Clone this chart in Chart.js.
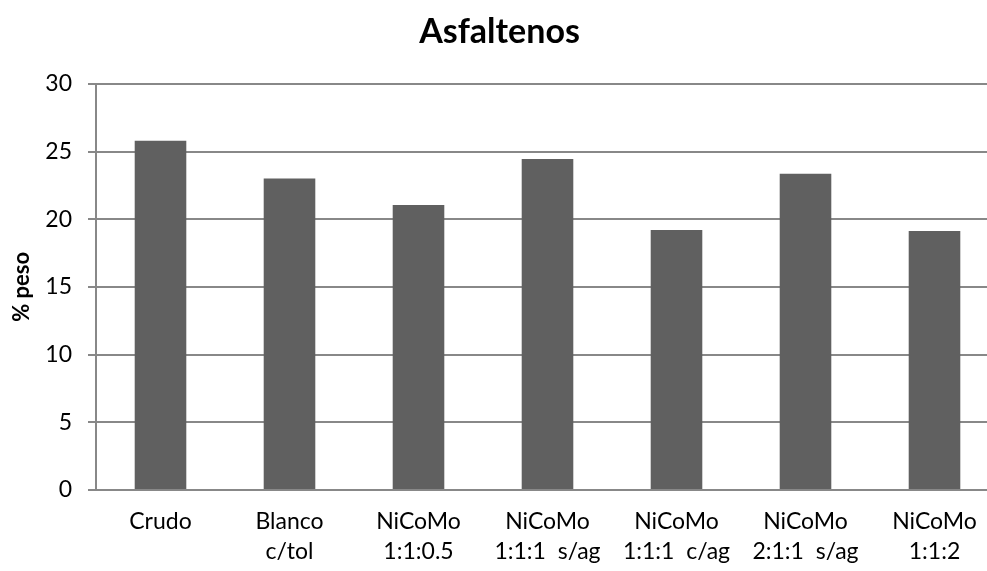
<!DOCTYPE html>
<html>
<head>
<meta charset="utf-8">
<script src="https://cdn.jsdelivr.net/npm/chart.js@4"></script>
<style>
html,body{margin:0;padding:0;background:#fff;overflow:hidden;}
#wrap{width:1000px;height:571px;position:relative;}
</style>
</head>
<body>
<div id="wrap"><canvas id="c" width="1000" height="571"></canvas></div>
<script>
const chartTitle = "Asfaltenos";
const yAxisTitle = "% peso";
const categories = [
  ["Crudo"],
  ["Blanco", "c/tol"],
  ["NiCoMo", "1:1:0.5"],
  ["NiCoMo", "1:1:1  s/ag"],
  ["NiCoMo", "1:1:1  c/ag"],
  ["NiCoMo", "2:1:1  s/ag"],
  ["NiCoMo", "1:1:2"]
];
const asfaltenos = [25.8, 23.0, 21.05, 24.45, 19.2, 23.35, 19.12];
const yTicks = [0, 5, 10, 15, 20, 25, 30];

const FONT = "Lato, 'Open Sans', sans-serif";
const GRID = "#888888";

new Chart(document.getElementById("c"), {
  type: "bar",
  data: {
    labels: categories,
    datasets: [{
      label: chartTitle,
      data: asfaltenos,
      backgroundColor: "#606060",
      borderWidth: 0,
      barPercentage: 0.4,
      categoryPercentage: 1.0
    }]
  },
  options: {
    responsive: false,
    animation: false,
    layout: { padding: { left: 0, right: 1, top: 0, bottom: 0 } },
    plugins: {
      legend: { display: false },
      tooltip: { enabled: false },
      title: {
        display: true,
        text: chartTitle,
        color: "#000",
        font: { family: FONT, size: 34, weight: "bold" },
        padding: { top: 12, bottom: 31 }
      }
    },
    scales: {
      x: {
        grid: { display: false, drawTicks: false },
        border: { display: true, color: GRID, width: 2 },
        ticks: {
          color: "#000",
          font: { family: FONT, size: 23, lineHeight: 1.3 },
          padding: 17,
          maxRotation: 0,
          autoSkip: false
        },
        afterFit: function(s) { s.height = 81; }
      },
      y: {
        min: 0,
        max: 30,
        afterBuildTicks: function(s) { s.ticks = yTicks.map(v => ({ value: v })); },
        grid: { color: GRID, lineWidth: 2, drawTicks: true, tickLength: 8 },
        border: { display: true, color: GRID, width: 2 },
        ticks: {
          color: "#000",
          font: { family: FONT, size: 23 },
          padding: 16
        },
        title: {
          display: true,
          text: yAxisTitle,
          color: "#000",
          font: { family: FONT, size: 22, weight: "bold" },
          padding: { top: 9, bottom: 0 }
        },
        afterFit: function(s) { s.width = 96; }
      }
    }
  }
});
</script>
</body>
</html>
